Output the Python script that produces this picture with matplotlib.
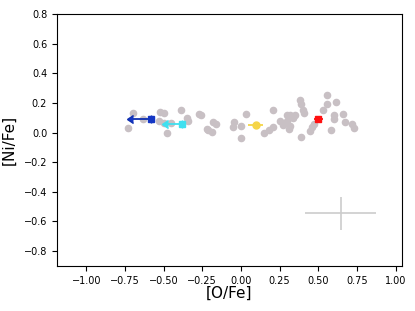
import matplotlib
matplotlib.use("Agg")
import matplotlib.pyplot as plt

# field stars [O/Fe], [Ni/Fe]
ofe = [-0.73, -0.70, -0.63, -0.52, -0.50, -0.53, -0.50, -0.45, -0.48, -0.39,
       -0.35, -0.34, -0.27, -0.26, -0.22, -0.21, -0.19, -0.18, -0.16, -0.045,
       -0.05, 0.00, 0.03, 0.00, 0.15, 0.18, 0.21, 0.21, 0.25, 0.27,
       0.30, 0.31, 0.32, 0.34, 0.35, 0.38, 0.39, 0.40, 0.41, 0.295,
       0.32, 0.46, 0.45, 0.47, 0.39, 0.555, 0.555, 0.53, 0.615, 0.60,
       0.60, 0.66, 0.67, 0.58, 0.72, 0.73]
nife = [0.03, 0.13, 0.09, 0.14, 0.13, 0.08, 0.065, 0.065, 0.0, 0.155,
        0.10, 0.08, 0.125, 0.115, 0.025, 0.02, 0.005, 0.07, 0.055, 0.07,
        0.04, 0.047, 0.125, -0.04, 0.0, 0.015, 0.15, 0.04, 0.076, 0.054,
        0.116, 0.025, 0.116, 0.10, 0.115, 0.22, 0.19, 0.155, 0.13, 0.076,
        0.042, 0.04, 0.01, 0.06, -0.03, 0.255, 0.19, 0.155, 0.205, 0.115,
        0.09, 0.125, 0.07, 0.02, 0.06, 0.03]

# highlighted objects
blue = (-0.58, 0.094)
cyan = (-0.38, 0.06)
gold = (0.095, 0.054)
red = (0.50, 0.094)

fig = plt.figure(figsize=(4.15, 3.11), dpi=100)
ax = fig.add_axes([0.137, 0.145, 0.831, 0.81])

ax.scatter(ofe, nife, s=20, color="#c8c0c4", zorder=1)

ax.errorbar(blue[0], blue[1], xerr=0.12, xuplims=True, fmt="s", ms=5,
            color="#1436c4", ecolor="#1030b0", capsize=3, elinewidth=1.3, zorder=3)
ax.errorbar(cyan[0], cyan[1], xerr=0.09, xuplims=True, fmt="s", ms=5,
            color="#40e0f0", ecolor="#40e0f0", capsize=3, elinewidth=1.3, zorder=3)
ax.errorbar(gold[0], gold[1], xerr=0.05, fmt="o", ms=5,
            color="#f5d547", elinewidth=1.3, zorder=3)
ax.errorbar(red[0], red[1], xerr=0.03, yerr=0.02, fmt="s", ms=5,
            color="#ff1010", elinewidth=1.3, zorder=3)

# typical error
ax.errorbar(0.645, -0.545, xerr=0.23, yerr=0.11, fmt="none",
            ecolor="#cccccc", elinewidth=1.2)

ax.set_xlim(-1.19, 1.04)
ax.set_ylim(-0.9, 0.8)
ax.set_xticks([-1.0, -0.75, -0.5, -0.25, 0.0, 0.25, 0.5, 0.75, 1.0])
ax.tick_params(labelsize=7)
ax.set_xlabel("[O/Fe]", fontsize=11, labelpad=0)
ax.set_ylabel("[Ni/Fe]", fontsize=11, labelpad=5)

fig.savefig("out.png", dpi=100)
